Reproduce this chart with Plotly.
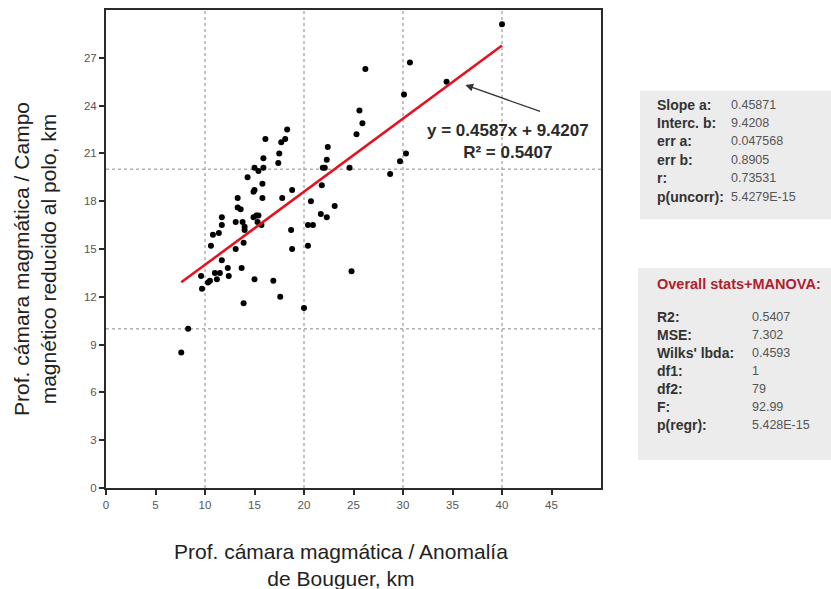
import plotly.graph_objects as go

# ---------------- data ----------------
x_bouguer = [40.0, 30.7, 26.2, 34.4, 30.1, 25.6, 25.9, 25.3, 30.3, 29.7, 28.7, 24.6, 24.8,
             18.3, 18.1, 17.7, 16.1, 17.5, 17.4, 15.9, 15.9, 15.0, 15.4, 14.3, 15.8, 15.8,
             15.0, 14.9, 17.8, 18.8, 22.4, 22.3, 21.9, 21.8, 20.7, 23.1, 21.7, 22.3, 20.4,
             20.9, 20.4, 18.7, 18.8, 20.0, 17.6, 16.9, 15.0, 13.9, 13.7, 13.9, 13.1, 13.3,
             13.3, 13.6, 13.1, 13.8, 14.0, 14.0, 15.2, 15.4, 14.9, 15.3, 15.7, 11.7, 11.7,
             11.4, 10.8, 10.6, 11.7, 12.3, 12.4, 11.5, 11.0, 11.2, 10.5, 10.3, 9.6, 9.7,
             8.3, 7.6, 22.1]
y_magnetico = [29.1, 26.7, 26.3, 25.5, 24.7, 23.7, 22.9, 22.2, 21.0, 20.5, 19.7, 20.1, 13.6,
               22.5, 21.9, 21.7, 21.9, 21.0, 20.4, 20.7, 20.1, 20.1, 19.9, 19.5, 19.1, 18.2,
               18.7, 18.6, 18.2, 18.7, 21.4, 20.6, 20.1, 19.0, 18.0, 17.7, 17.2, 17.0, 16.5,
               16.5, 15.2, 16.2, 15.0, 11.3, 12.0, 13.0, 13.1, 11.6, 13.8, 15.4, 15.0, 18.2,
               17.6, 17.5, 16.7, 16.7, 16.4, 16.2, 17.1, 17.1, 17.0, 16.7, 16.5, 17.0, 16.5,
               16.0, 15.9, 15.2, 14.3, 13.8, 13.3, 13.5, 13.5, 13.1, 13.0, 12.9, 13.3, 12.5,
               10.0, 8.5, 20.1]

slope = 0.4587
intercept = 9.4207
trend_x = [7.6, 40.0]
trend_y = [slope * v + intercept for v in trend_x]

x_ticks = [0, 5, 10, 15, 20, 25, 30, 35, 40, 45]
y_ticks = [0, 3, 6, 9, 12, 15, 18, 21, 24, 27]
grid_x = [10, 20, 30, 40]
grid_y = [10, 20]

stats1_labels = ["Slope a:", "Interc. b:", "err a:", "err b:", "r:", "p(uncorr):"]
stats1_values = ["0.45871", "9.4208", "0.047568", "0.8905", "0.73531", "5.4279E-15"]
stats2_title = "Overall stats+MANOVA:"
stats2_labels = ["R2:", "MSE:", "Wilks' lbda:", "df1:", "df2:", "F:", "p(regr):"]
stats2_values = ["0.5407", "7.302", "0.4593", "1", "79", "92.99", "5.428E-15"]

# ---------------- layout geometry ----------------
W_FIG, H_FIG = 831, 589
L, T, R_PX, B_PX = 106, 8, 601, 488
PW, PH = R_PX - L, B_PX - T


def pxx(px):
    return (px - L) / PW


def pxy(py):
    return (B_PX - py) / PH


FONT = "Liberation Sans, Arial, sans-serif"

fig = go.Figure()

shapes = []
for g in grid_x:
    shapes.append(dict(type="line", xref="x", yref="paper", x0=g, x1=g, y0=0, y1=1,
                       line=dict(color="#b0b0b0", width=1.5, dash="dot"), layer="below"))
for g in grid_y:
    shapes.append(dict(type="line", xref="paper", yref="y", x0=0, x1=1, y0=g, y1=g,
                       line=dict(color="#b0b0b0", width=1.5, dash="dot"), layer="below"))

shapes.append(dict(type="rect", xref="paper", yref="paper",
                   x0=pxx(640), x1=pxx(831), y0=pxy(218), y1=pxy(89),
                   fillcolor="#ececec", line=dict(width=0), layer="below"))
shapes.append(dict(type="rect", xref="paper", yref="paper",
                   x0=pxx(638), x1=pxx(831), y0=pxy(460), y1=pxy(267),
                   fillcolor="#ececec", line=dict(width=0), layer="below"))

fig.add_trace(go.Scatter(x=x_bouguer, y=y_magnetico, mode="markers",
                         marker=dict(color="black", size=6), showlegend=False))
fig.add_trace(go.Scatter(x=trend_x, y=trend_y, mode="lines",
                         line=dict(color="#e8101c", width=2.5), showlegend=False))

annotations = []
annotations.append(dict(x=40.6, y=21.75, xref="x", yref="y",
                        text="<b>y = 0.4587x + 9.4207</b><br><b>R² = 0.5407</b>", showarrow=False,
                        font=dict(family=FONT, size=17, color="#2a2a2a"),
                        xanchor="center", yanchor="middle"))
annotations.append(dict(x=36.3, y=25.3, xref="x", yref="y", ax=44.0, ay=23.6,
                        axref="x", ayref="y", text="", showarrow=True,
                        arrowhead=2, arrowsize=1.3, arrowwidth=1.2, arrowcolor="#333"))

annotations.append(dict(x=pxx(341), y=pxy(565), xref="paper", yref="paper",
                        text="Prof. cámara magmática / Anomalía<br>de Bouguer, km",
                        showarrow=False, font=dict(family=FONT, size=21, color="#222"),
                        xanchor="center", yanchor="middle"))
annotations.append(dict(x=pxx(35), y=pxy(258), xref="paper", yref="paper",
                        text="Prof. cámara magmática / Campo<br>magnético reducido al polo, km",
                        showarrow=False, textangle=-90,
                        font=dict(family=FONT, size=21, color="#222"),
                        xanchor="center", yanchor="middle"))

row0, step = 103, 18.5
for i, (lab, val) in enumerate(zip(stats1_labels, stats1_values)):
    yy = pxy(row0 + i * step)
    annotations.append(dict(x=pxx(655), y=yy, xref="paper", yref="paper", text="<b>" + lab + "</b>",
                            showarrow=False, xanchor="left", yanchor="middle",
                            font=dict(family=FONT, size=14, color="#333")))
    annotations.append(dict(x=pxx(729), y=yy, xref="paper", yref="paper", text=val,
                            showarrow=False, xanchor="left", yanchor="middle",
                            font=dict(family=FONT, size=12.5, color="#555")))

annotations.append(dict(x=pxx(655), y=pxy(283), xref="paper", yref="paper",
                        text="<b>" + stats2_title + "</b>", showarrow=False,
                        xanchor="left", yanchor="middle",
                        font=dict(family=FONT, size=14.5, color="#b01e2e")))
row0b, stepb = 316, 18.2
for i, (lab, val) in enumerate(zip(stats2_labels, stats2_values)):
    yy = pxy(row0b + i * stepb)
    annotations.append(dict(x=pxx(655), y=yy, xref="paper", yref="paper", text="<b>" + lab + "</b>",
                            showarrow=False, xanchor="left", yanchor="middle",
                            font=dict(family=FONT, size=14, color="#333")))
    annotations.append(dict(x=pxx(750), y=yy, xref="paper", yref="paper", text=val,
                            showarrow=False, xanchor="left", yanchor="middle",
                            font=dict(family=FONT, size=12.5, color="#555")))

axis_common = dict(showgrid=False, zeroline=False, showline=True, linecolor="#2a2a2a",
                   linewidth=2, mirror=True, ticks="outside", ticklen=5, tickwidth=1.5,
                   tickcolor="#2a2a2a", tickfont=dict(family=FONT, size=11.5, color="#555"))

fig.update_layout(
    width=W_FIG, height=H_FIG,
    margin=dict(l=L, r=W_FIG - R_PX, t=T, b=H_FIG - B_PX),
    paper_bgcolor="white", plot_bgcolor="white",
    xaxis=dict(range=[0, 50], tickvals=x_ticks, ticktext=[str(v) for v in x_ticks], **axis_common),
    yaxis=dict(range=[0, 30], tickvals=y_ticks, ticktext=[str(v) for v in y_ticks], **axis_common),
    shapes=shapes, annotations=annotations, showlegend=False,
)

fig.write_html("out.html")
